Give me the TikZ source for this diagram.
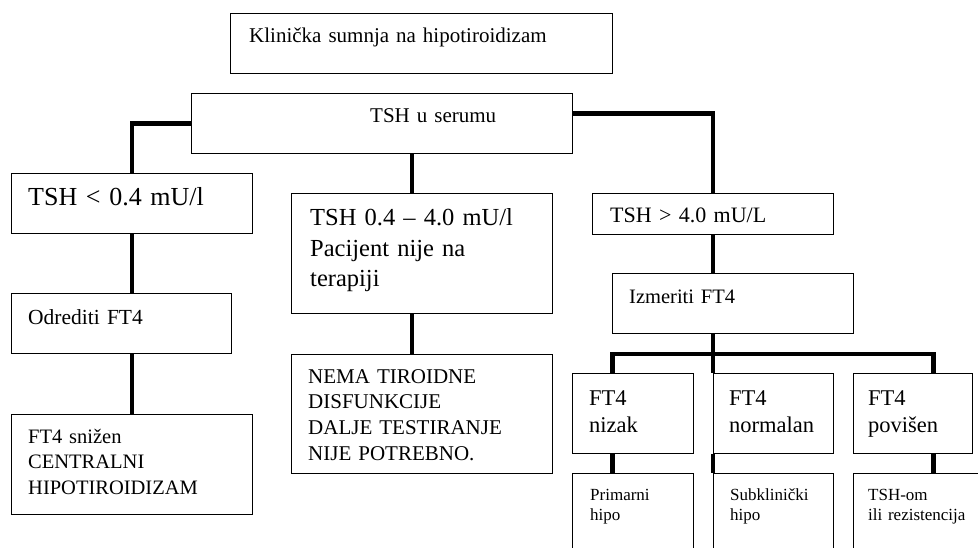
\documentclass[tikz,border=0pt]{standalone}
\usepackage{fontspec}
\setmainfont{Liberation Serif}
\usepackage{tikz}
\usetikzlibrary{calc}
\newcommand{\fsz}[2]{\fontsize{#1}{#2}\selectfont}

\begin{document}
\begin{tikzpicture}[x=1pt, y=-1pt, box/.style = {draw, line width=1.1pt, anchor=north west, inner sep=0pt}, lbl/.style = {anchor=base west, inner sep=0pt, align=left}, conn/.style = {line width=4.5pt}]
\useasboundingbox (0,0) rectangle (978,548);
\clip (0,0) rectangle (978,548);
\node[box, minimum width=382, minimum height=60] (clin) at (230,13) {};
\node[box, minimum width=381, minimum height=60] (serum) at (191,93) {};
\node[box, minimum width=241, minimum height=60] (low) at (11,173) {};
\node[box, minimum width=261, minimum height=120] (mid) at (291,193) {};
\node[box, minimum width=241, minimum height=41] (high) at (592,193) {};
\node[box, minimum width=220, minimum height=60] (odredi) at (11,293) {};
\node[box, minimum width=241, minimum height=100] (central) at (11,414) {};
\node[box, minimum width=261, minimum height=119] (nema) at (291,354) {};
\node[box, minimum width=241, minimum height=60] (izmeri) at (612,273) {};
\node[box, minimum width=121, minimum height=80] (nizak) at (572,373) {};
\node[box, minimum width=120, minimum height=80] (normal) at (713,373) {};
\node[box, minimum width=119, minimum height=80] (povisen) at (853,373) {};
\node[box, minimum width=121, minimum height=100] (prim) at (572,473) {};
\node[box, minimum width=120, minimum height=100] (subkl) at (713,473) {};
\node[box, minimum width=140, minimum height=100] (rezist) at (853,473) {};
\node[lbl, text width=360, font=\fsz{21}{26}] (clin-t) at (249,43) {Klinička sumnja na hipotiroidizam};
\node[lbl, text width=190, font=\fsz{21}{26}] (serum-t) at (370,123) {TSH u serumu};
\node[lbl, text width=220, font=\fsz{26}{31}] (low-t) at (28,206) {TSH < 0.4 mU/l};
\node[lbl, text width=240, font=\fsz{24.5}{30.5}] (mid-t) at (310,226) {TSH 0.4 – 4.0 mU/l\\Pacijent nije na\\terapiji};
\node[lbl, text width=220, font=\fsz{22}{27}] (high-t) at (610,223) {TSH > 4.0 mU/L};
\node[lbl, text width=200, font=\fsz{21.5}{26}] (odredi-t) at (28,324) {Odrediti FT4};
\node[lbl, text width=220, font=\fsz{20.5}{25.5}] (central-t) at (28,443) {FT4 snižen\\CENTRALNI\\HIPOTIROIDIZAM};
\node[lbl, text width=240, font=\fsz{21}{25.7}] (nema-t) at (308,383) {NEMA TIROIDNE\\DISFUNKCIJE\\DALJE TESTIRANJE\\NIJE POTREBNO.};
\node[lbl, text width=220, font=\fsz{20.5}{25}] (izmeri-t) at (629,304) {Izmeriti FT4};
\node[lbl, text width=100, font=\fsz{22.5}{27}] (nizak-t) at (589,405) {FT4\\nizak};
\node[lbl, text width=100, font=\fsz{22.5}{27}] (normal-t) at (729,405) {FT4\\normalan};
\node[lbl, text width=100, font=\fsz{22.5}{27}] (povisen-t) at (868,405) {FT4\\povišen};
\node[lbl, text width=110, font=\fsz{17}{20}] (prim-t) at (590,500) {Primarni\\hipo};
\node[lbl, text width=110, font=\fsz{17}{20}] (subkl-t) at (730,500) {Subklinički\\hipo};
\node[lbl, text width=110, font=\fsz{17}{20}] (rezist-t) at (868,500) {TSH-om\\ili rezistencija};
\coordinate (fork) at (high.south |- 0,354);
\draw[conn] (serum.west) -| (low.north);
\draw[conn] ([yshift=10pt]serum.east) -| (high.north);
\draw[conn] ([xshift=-10pt]mid.north) -- ([xshift=-10pt]mid.north |- serum.south);
\draw[conn] (low.south) -- (low.south |- odredi.north);
\draw[conn] (low.south |- odredi.south) -- (low.south |- central.north);
\draw[conn] ([xshift=-10pt]mid.south) -- ([xshift=-10pt]nema.north);
\draw[conn] (high.south) -- (high.south |- izmeri.north);
\draw[conn] (high.south |- izmeri.south) -- (fork);
\draw[conn] ([xshift=-20.5pt]nizak.north) |- (fork) -| ([xshift=20.5pt]povisen.north);
\draw[conn] (fork) -- (fork |- normal.north);
\draw[conn] ([xshift=-20.5pt]nizak.south) -- ([xshift=-20.5pt]nizak.south |- prim.north);
\draw[conn] (fork |- normal.south) -- (fork |- subkl.north);
\draw[conn] ([xshift=20.5pt]povisen.south) -- ([xshift=20.5pt]povisen.south |- rezist.north);
\end{tikzpicture}
\end{document}
